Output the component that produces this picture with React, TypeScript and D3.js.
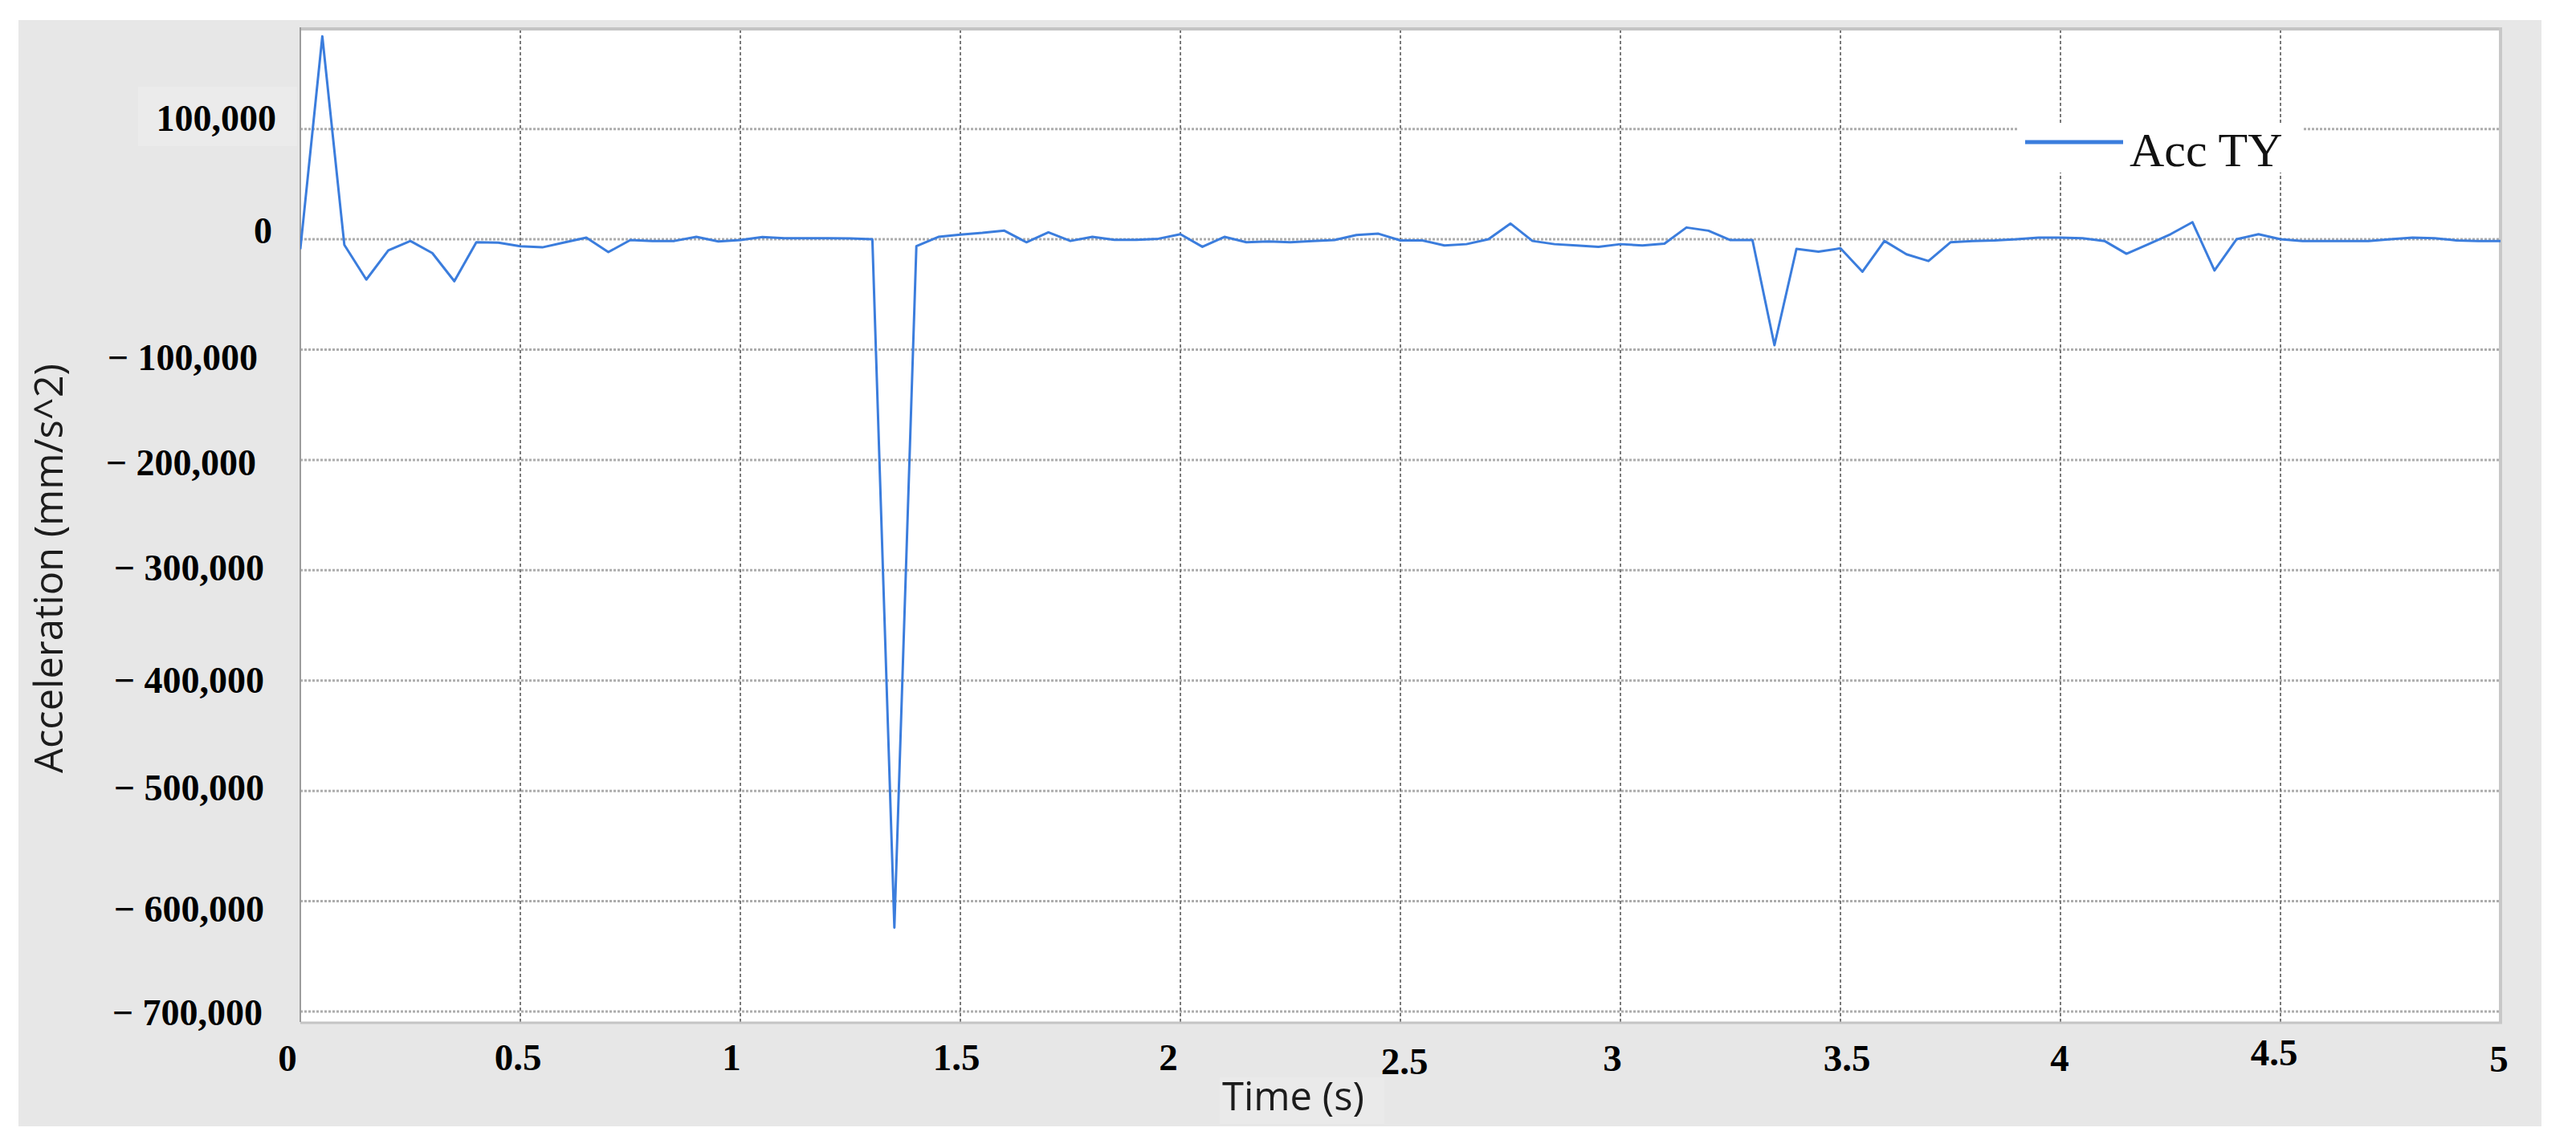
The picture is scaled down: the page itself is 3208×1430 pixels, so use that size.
import React from "react";
import * as d3 from "d3";

// ---- data ----
const times = [
  0, 0.05, 0.1, 0.15, 0.2, 0.25, 0.3, 0.35, 0.4, 0.45,
  0.5, 0.55, 0.6, 0.65, 0.7, 0.75, 0.8, 0.85, 0.9, 0.95,
  1, 1.05, 1.1, 1.15, 1.2, 1.25, 1.3, 1.35, 1.4, 1.45,
  1.5, 1.55, 1.6, 1.65, 1.7, 1.75, 1.8, 1.85, 1.9, 1.95,
  2, 2.05, 2.1, 2.15, 2.2, 2.25, 2.3, 2.35, 2.4, 2.45,
  2.5, 2.55, 2.6, 2.65, 2.7, 2.75, 2.8, 2.85, 2.9, 2.95,
  3, 3.05, 3.1, 3.15, 3.2, 3.25, 3.3, 3.35, 3.4, 3.45,
  3.5, 3.55, 3.6, 3.65, 3.7, 3.75, 3.8, 3.85, 3.9, 3.95,
  4, 4.05, 4.1, 4.15, 4.2, 4.25, 4.3, 4.35, 4.4, 4.45,
  4.5, 4.55, 4.6, 4.65, 4.7, 4.75, 4.8, 4.85, 4.9, 4.95,
  5,
];

const accTY = [
  -9000, 184000, -5000, -36500, -10000, -1500, -12500, -38000, -2700, -3000,
  -6300, -7300, -2900, 1500, -11600, -700, -1500, -1500, 2200, -2000,
  -700, 2000, 1000, 1000, 1000, 800, 0, -624000, -6300, 2200,
  4300, 5800, 7800, -2700, 6300, -1500, 2200, -500, -500, 500,
  4600, -6800, 2200, -2700, -2000, -2700, -1500, -700, 3900, 5100,
  -1000, -1000, -5600, -4400, 0, 14300, -1500, -4400, -5600, -6800,
  -4400, -5600, -3900, 10700, 7800, -700, -700, -96000, -8700, -11200,
  -8200, -29400, -1500, -13600, -19700, -2700, -1500, -1000, 0, 1500,
  1500, 1000, -1500, -13100, -4400, 4600, 15500, -28200, 0, 4600,
  0, -1500, -1500, -1500, -1500, 0, 1500, 1000, -1000, -1500,
  -1500,
];

const xTicks = [0, 0.5, 1, 1.5, 2, 2.5, 3, 3.5, 4, 4.5, 5];
const xTickLabels = ["0", "0.5", "1", "1.5", "2", "2.5", "3", "3.5", "4", "4.5", "5"];
const yTicks = [100000, 0, -100000, -200000, -300000, -400000, -500000, -600000, -700000];
const yTickLabels = [
  "100,000", "0", "\u2212 100,000", "\u2212 200,000", "\u2212 300,000",
  "\u2212 400,000", "\u2212 500,000", "\u2212 600,000", "\u2212 700,000",
];
const seriesName = "Acc  TY";
const xTitle = "Time (s)";
const yTitle = "Acceleration (mm/s^2)";

// ---- layout / style ----
const W = 3208;
const H = 1430;
const plot = { left: 374, right: 3114, top: 37, bottom: 1273 };
const panel = { left: 23, top: 25, right: 3165, bottom: 1403 };
const lineColor = "#3b7ddd";
const serif = "'Liberation Serif', 'Times New Roman', serif";
const sans = "'Open Sans', 'Noto Sans', sans-serif";
// per-label nudges reproducing the hand-edited label placement
const yLabelRight = [344, 339, 321, 319, 329, 329, 329, 329, 327];
const yLabelDy = [-13.5, -11, 10, 3.7, -2.5, 0, -3.3, 9.7, 1.7];
const xLabelDx = [-16, -3, -11, -5, -15, 5, -10, 8, -1, -8, -2];
const xLabelCy = [1318, 1317, 1317, 1317, 1317, 1322, 1318, 1318, 1318, 1311, 1319];

export default function App() {
  const x = d3.scaleLinear().domain([0, 5]).range([plot.left, plot.right]);
  const y = d3.scaleLinear().domain([-709500, 190000]).range([plot.bottom, plot.top]);
  const pts = times.map((t, i) => [t, accTY[i]] as [number, number]);
  const line = d3
    .line<[number, number]>()
    .x((d) => x(d[0]))
    .y((d) => y(d[1]));

  const legX = 2512;
  const legY = 155;

  return (
    <svg
      width={W}
      height={H}
      viewBox={`0 0 ${W} ${H}`}
      style={{ position: "absolute", left: 0, top: 0, background: "#ffffff" }}
    >
      <defs>
        <clipPath id="plotclip">
          <rect x={plot.left} y={plot.top} width={plot.right - plot.left} height={plot.bottom - plot.top} />
        </clipPath>
      </defs>
      <rect x={0} y={0} width={W} height={H} fill="#ffffff" />
      {/* grey panel */}
      <rect
        x={panel.left}
        y={panel.top}
        width={panel.right - panel.left}
        height={panel.bottom - panel.top}
        fill="#e7e7e7"
      />
      {/* faint pasted boxes behind some labels */}
      <rect x={172} y={108} width={198} height={74} fill="#ebebeb" />
      <rect x={1519} y={1342} width={205} height={58} fill="#eaeaea" />
      {/* plot area */}
      <rect
        x={plot.left}
        y={plot.top}
        width={plot.right - plot.left}
        height={plot.bottom - plot.top}
        fill="#ffffff"
      />

      {/* horizontal grid */}
      {yTicks.map((v) => (
        <line
          key={"hg" + v}
          x1={plot.left}
          x2={plot.right}
          y1={y(v)}
          y2={y(v)}
          stroke="#adadad"
          strokeWidth={3}
          strokeDasharray="3,2"
        />
      ))}
      {/* vertical grid */}
      {xTicks
        .filter((t) => t > 0 && t < 5)
        .map((t) => (
          <line
            key={"vg" + t}
            x1={x(t)}
            x2={x(t)}
            y1={plot.top}
            y2={plot.bottom}
            stroke="#7a7a7a"
            strokeWidth={2}
            strokeDasharray="4,3"
          />
        ))}

      {/* plot borders */}
      <line x1={plot.left} x2={plot.right + 2} y1={plot.top - 1} y2={plot.top - 1} stroke="#c4c4c4" strokeWidth={4} />
      <line x1={plot.left} x2={plot.right + 2} y1={plot.bottom + 1} y2={plot.bottom + 1} stroke="#c4c4c4" strokeWidth={3} />
      <line x1={plot.right} x2={plot.right} y1={plot.top - 3} y2={plot.bottom + 2} stroke="#c8c8c8" strokeWidth={4} />
      <line x1={plot.left} x2={plot.left} y1={plot.top - 3} y2={plot.bottom} stroke="#9c9c9c" strokeWidth={2} />

      {/* data line */}
      <path
        d={line(pts) || ""}
        fill="none"
        stroke={lineColor}
        strokeWidth={3}
        strokeLinejoin="round"
        clipPath="url(#plotclip)"
      />

      {/* legend */}
      <rect x={legX} y={legY} width={357} height={60} fill="#ffffff" />
      <line x1={legX + 10} x2={legX + 132} y1={legY + 22} y2={legY + 22} stroke={lineColor} strokeWidth={5} />
      <text x={legX + 140} y={legY + 52} fontFamily={serif} fontSize={60} fill="#111111">
        {seriesName}
      </text>

      {/* y tick labels */}
      {yTicks.map((v, i) => (
        <text
          key={"yl" + v}
          x={yLabelRight[i]}
          y={y(v) + yLabelDy[i] + 15.5}
          textAnchor="end"
          fontFamily={serif}
          fontWeight="bold"
          fontSize={46}
          fill="#000000"
        >
          {yTickLabels[i]}
        </text>
      ))}

      {/* x tick labels */}
      {xTicks.map((t, i) => (
        <text
          key={"xl" + t}
          x={x(t) + xLabelDx[i]}
          y={xLabelCy[i] + 16}
          textAnchor="middle"
          fontFamily={serif}
          fontWeight="bold"
          fontSize={47}
          fill="#000000"
        >
          {xTickLabels[i]}
        </text>
      ))}

      {/* axis titles */}
      <text
        x={1522}
        y={1383}
        fontFamily={sans}
        fontSize={50}
        fill="#1c1c1c"
        textLength={177}
        lengthAdjust="spacingAndGlyphs"
      >
        {xTitle}
      </text>
      <text
        transform={`translate(78, 708) rotate(-90)`}
        textAnchor="middle"
        fontFamily={sans}
        fontSize={50}
        fill="#1c1c1c"
        textLength={510}
        lengthAdjust="spacingAndGlyphs"
      >
        {yTitle}
      </text>
    </svg>
  );
}
